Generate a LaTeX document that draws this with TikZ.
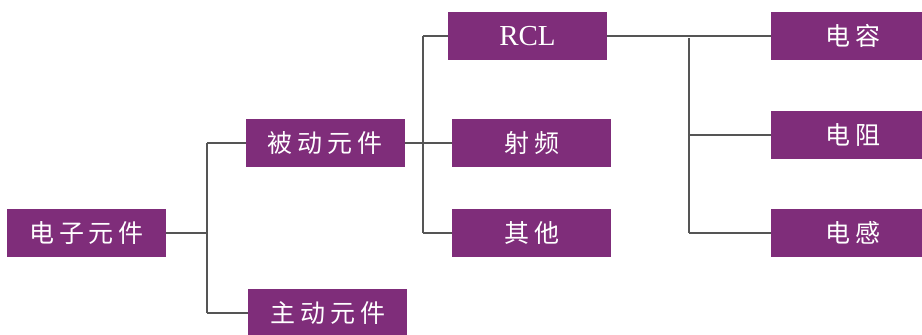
\documentclass[tikz,border=0pt]{standalone}
\usepackage{fontspec}
\setmainfont{Liberation Serif}
\newfontfamily\cjk[LetterSpace=20]{Noto Sans CJK SC}
\definecolor{boxpurple}{RGB}{127,45,122}
\definecolor{linegray}{RGB}{85,85,85}
\begin{document}
\begin{tikzpicture}[x=1pt,y=-1pt,
  box/.style={fill=boxpurple,draw=none,inner sep=0pt,outer sep=0pt,
    minimum width=159pt,minimum height=48pt,text=white,
    font=\cjk\fontsize{25}{25}\selectfont},
  rbox/.style={box,minimum width=151pt},
  conn/.style={draw=linegray,line width=1.2pt}]
\useasboundingbox (0,0) rectangle (922,335);
\begin{scope}
\clip (0,0) rectangle (922,335);
\node[box] (root) at (86.5,233) {电子元件};
\node[box] (passive) at (325,143) {被动元件};
\node[box] (active) at (327.5,313) {主动元件};
\node[box,font=\fontsize{29}{29}\selectfont] (rcl) at (527.5,36) {RCL};
\node[box] (rf) at (531.5,143) {射频};
\node[box] (other) at (531.5,233) {其他};
\node[rbox] (cap) at (846.5,36) {\hspace*{13pt}电容};
\node[rbox] (res) at (846.5,135) {\hspace*{13pt}电阻};
\node[rbox] (ind) at (846.5,233) {\hspace*{13pt}电感};
\end{scope}
\coordinate (j1) at (207,233);
\coordinate (j2) at (423,143);
\coordinate (j3) at (689,36);
\draw[conn] (root.east) -- (j1);
\draw[conn] (207,143) -- (passive.west);
\draw[conn] (207,313) -- (active.west);
\draw[conn] (207,143) -- (207,313);
\draw[conn] (passive.east) -- (rf.west);
\draw[conn] (423,36) -- (rcl.west);
\draw[conn] (423,233) -- (other.west);
\draw[conn] (423,36) -- (423,233);
\draw[conn] (rcl.east) -- (cap.west);
\draw[conn] (689,38) -- (689,233);
\draw[conn] (689,135) -- (res.west);
\draw[conn] (689,233) -- (ind.west);
\end{tikzpicture}
\end{document}
